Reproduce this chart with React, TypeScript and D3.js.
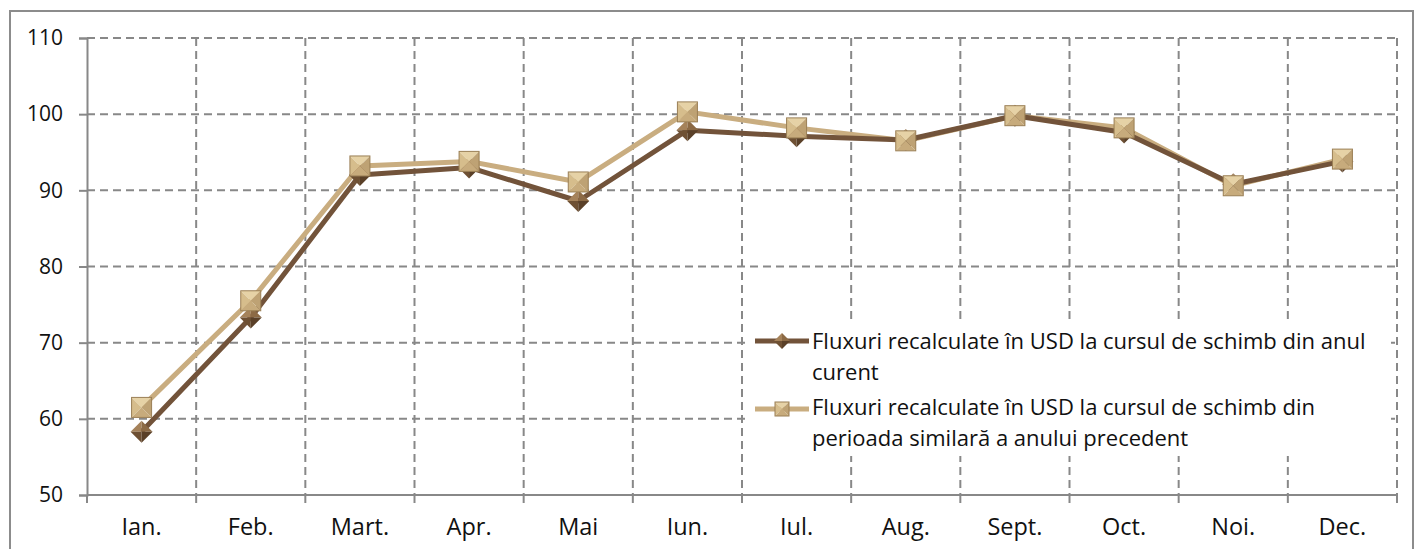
import React, { useEffect, useRef } from 'react';
import * as d3 from 'd3';

const months = ['Ian.', 'Feb.', 'Mart.', 'Apr.', 'Mai', 'Iun.', 'Iul.', 'Aug.', 'Sept.', 'Oct.', 'Noi.', 'Dec.'];
const currentRate = [58.3, 73.3, 92.0, 93.0, 88.6, 97.9, 97.1, 96.6, 99.8, 97.6, 90.8, 93.8];
const previousRate = [61.5, 75.5, 93.2, 93.8, 91.1, 100.3, 98.2, 96.5, 99.8, 98.2, 90.6, 94.1];
const yTicks = [50, 60, 70, 80, 90, 100, 110];
const legendCurrent = ['Fluxuri recalculate în USD la cursul de schimb din anul', 'curent'];
const legendPrevious = ['Fluxuri recalculate în USD la cursul de schimb din', 'perioada similară a anului precedent'];

const FONT = '"Open Sans", Lato, sans-serif';

const App: React.FC = () => {
    const chartRef = useRef<SVGSVGElement | null>(null);

    useEffect(() => {
        document.body.style.margin = '0';
        if (!chartRef.current) return;
        const svg = d3.select(chartRef.current);
        svg.selectAll('*').remove();

        const margin = { top: 38, right: 20, bottom: 54, left: 87 };
        const height = 549;
        const innerWidth = 1397 - margin.left;
        const innerHeight = height - margin.bottom - margin.top;

        // outer frame
        svg.append('rect')
            .attr('x', 10).attr('y', 11)
            .attr('width', 1403).attr('height', 560)
            .attr('fill', 'white')
            .attr('stroke', '#8c8c8c').attr('stroke-width', 2);

        const x = d3.scaleBand().domain(months).range([0, innerWidth]);
        const y = d3.scaleLinear().domain([50, 110]).range([innerHeight, 0]);

        const g = svg.append('g').attr('transform', `translate(${margin.left}, ${margin.top})`);

        const gridColor = '#888888';

        // horizontal grid
        g.selectAll('.hgrid')
            .data(yTicks.filter((t) => t > 50))
            .enter()
            .append('line')
            .attr('x1', 0).attr('x2', innerWidth)
            .attr('y1', (d) => y(d)).attr('y2', (d) => y(d))
            .attr('stroke', gridColor).attr('stroke-width', 2)
            .attr('stroke-dasharray', '8,5');

        // vertical grid at category boundaries
        const bounds = months.map((m) => (x(m) as number) + x.bandwidth());
        g.selectAll('.vgrid')
            .data(bounds)
            .enter()
            .append('line')
            .attr('x1', (d) => d).attr('x2', (d) => d)
            .attr('y1', 0).attr('y2', innerHeight)
            .attr('stroke', gridColor).attr('stroke-width', 2)
            .attr('stroke-dasharray', '8,5');

        // y axis
        const yAxis = d3.axisLeft(y).tickValues(yTicks).tickSize(8).tickPadding(16);
        const yG = g.append('g').call(yAxis);
        yG.select('.domain').attr('stroke', gridColor).attr('stroke-width', 2);
        yG.selectAll('.tick line').attr('stroke', gridColor).attr('stroke-width', 2);
        yG.selectAll('.tick text')
            .attr('font-family', FONT).attr('font-size', 21).attr('fill', '#111');

        // x axis
        const xG = g.append('g').attr('transform', `translate(0, ${innerHeight})`);
        xG.append('line')
            .attr('x1', 0).attr('x2', innerWidth)
            .attr('stroke', gridColor).attr('stroke-width', 2);
        xG.selectAll('.xtick')
            .data([0, ...bounds])
            .enter()
            .append('line')
            .attr('x1', (d) => d).attr('x2', (d) => d)
            .attr('y1', 0).attr('y2', 8)
            .attr('stroke', gridColor).attr('stroke-width', 2);
        xG.selectAll('.xlabel')
            .data(months)
            .enter()
            .append('text')
            .attr('x', (d) => (x(d) as number) + x.bandwidth() / 2)
            .attr('y', 40)
            .attr('text-anchor', 'middle')
            .attr('font-family', FONT).attr('font-size', 23.5).attr('fill', '#111')
            .text((d) => d);

        const darkLine = '#72533a';
        const lightLine = '#c9ad80';

        const line = d3.line<number>()
            .x((_, i) => (x(months[i]) as number) + x.bandwidth() / 2)
            .y((d) => y(d));

        g.append('path').datum(previousRate)
            .attr('d', line).attr('fill', 'none')
            .attr('stroke', lightLine).attr('stroke-width', 5).attr('stroke-linejoin', 'round');
        g.append('path').datum(currentRate)
            .attr('d', line).attr('fill', 'none')
            .attr('stroke', darkLine).attr('stroke-width', 5).attr('stroke-linejoin', 'round');

        const drawDiamond = (sel: d3.Selection<SVGGElement, unknown, null, undefined>, cx: number, cy: number, r: number) => {
            const t = [cx, cy - r], b = [cx, cy + r], l = [cx - r, cy], rr = [cx + r, cy], c = [cx, cy];
            const faces: [number[][], string][] = [
                [[t, l, c], '#a5825a'],
                [[t, rr, c], '#8c6a45'],
                [[l, b, c], '#6e5033'],
                [[rr, b, c], '#5a4028'],
            ];
            faces.forEach(([pts, col]) => {
                sel.append('polygon').attr('points', pts.map((p) => p.join(',')).join(' ')).attr('fill', col);
            });
        };

        const drawSquare = (sel: d3.Selection<SVGGElement, unknown, null, undefined>, cx: number, cy: number, h: number) => {
            const tl = [cx - h, cy - h], tr = [cx + h, cy - h], bl = [cx - h, cy + h], br = [cx + h, cy + h], c = [cx, cy];
            const faces: [number[][], string][] = [
                [[tl, tr, c], '#e6d2a6'],
                [[tl, bl, c], '#d6bd8c'],
                [[tr, br, c], '#bea274'],
                [[bl, br, c], '#c7ab7c'],
            ];
            faces.forEach(([pts, col]) => {
                sel.append('polygon').attr('points', pts.map((p) => p.join(',')).join(' ')).attr('fill', col);
            });
            sel.append('rect').attr('x', cx - h).attr('y', cy - h).attr('width', 2 * h).attr('height', 2 * h)
                .attr('fill', 'none').attr('stroke', '#9a7f55').attr('stroke-width', 1);
        };

        const markers = g.append('g');
        currentRate.forEach((v, i) => {
            drawDiamond(markers, (x(months[i]) as number) + x.bandwidth() / 2, y(v), 11);
        });
        previousRate.forEach((v, i) => {
            drawSquare(markers, (x(months[i]) as number) + x.bandwidth() / 2, y(v), 10);
        });

        // legend
        const legend = svg.append('g');
        legend.append('rect')
            .attr('x', 749).attr('y', 323).attr('width', 642).attr('height', 133)
            .attr('fill', 'white');

        const entries: [string[], number, number, 'dark' | 'light'][] = [
            [legendCurrent, 341, 349, 'dark'],
            [legendPrevious, 409, 415, 'light'],
        ];
        entries.forEach(([lines, ly, base, kind]) => {
            legend.append('line')
                .attr('x1', 755).attr('x2', 809).attr('y1', ly).attr('y2', ly)
                .attr('stroke', kind === 'dark' ? darkLine : lightLine).attr('stroke-width', 5);
            if (kind === 'dark') drawDiamond(legend, 782, ly, 8);
            else drawSquare(legend, 782, ly, 7);
            lines.forEach((txt, k) => {
                legend.append('text')
                    .attr('x', 812).attr('y', base + k * 30.5)
                    .attr('font-family', FONT).attr('font-size', 22).attr('fill', '#111')
                    .text(txt);
            });
        });

        return () => {
            if (chartRef.current) {
                chartRef.current.innerHTML = '';
            }
        };
    }, []);

    return (
        <svg ref={chartRef} width={1417} height={549} style={{ position: 'absolute', left: 0, top: 0 }} />
    );
};

export default App;
